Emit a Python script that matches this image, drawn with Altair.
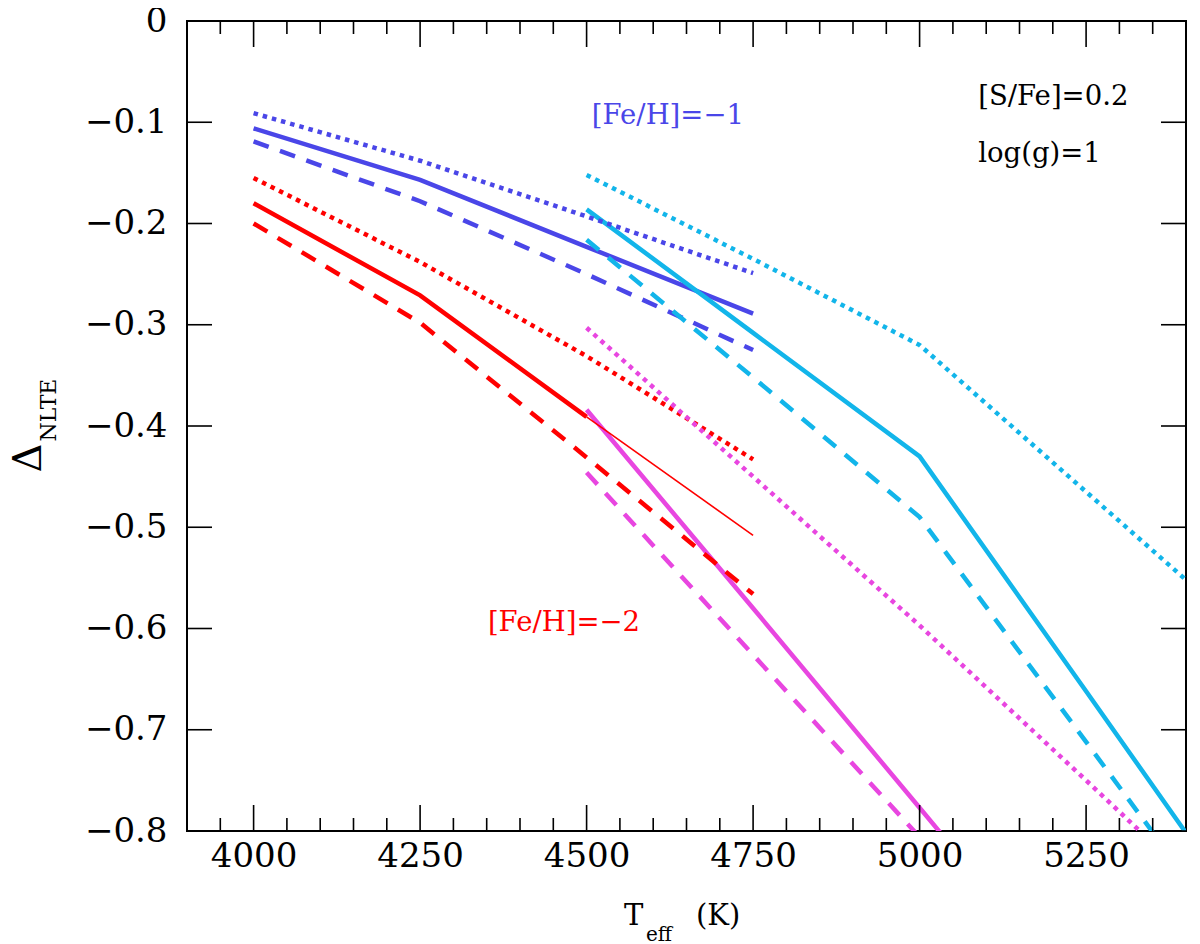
import altair as alt
import pandas as pd

# temperature grids
teff_cool = [4000, 4250, 4500, 4750]
teff_hot = [4500, 4750, 5000, 5250, 5500]

# [Fe/H]=-1 (blue) on the cool grid
blue_solid = [-0.106, -0.157, -0.223, -0.289]
blue_dashed = [-0.119, -0.178, -0.250, -0.325]
blue_dotted = [-0.091, -0.138, -0.193, -0.249]

# [Fe/H]=-2 (red) on the cool grid, last solid piece drawn thin
red_solid = [-0.180, -0.271, -0.391]
red_thin_teff = [4500, 4750]
red_thin = [-0.391, -0.508]
red_dashed = [-0.200, -0.298, -0.431, -0.566]
red_dotted = [-0.155, -0.238, -0.331, -0.433]

# hot grid: cyan and magenta
cyan_solid = [-0.186, -0.308, -0.430, -0.662, -0.895]
cyan_dashed = [-0.216, -0.352, -0.490, -0.712, -0.935]
cyan_dotted = [-0.152, -0.235, -0.320, -0.465, -0.610]
magenta_solid = [-0.384, -0.580, -0.777, -0.975]
magenta_dashed = [-0.446, -0.626, -0.806]
magenta_dotted = [-0.303, -0.450, -0.597, -0.750, -0.905]

# tick positions and labels
x_major = [4000, 4250, 4500, 4750, 5000, 5250]
x_minor = [3950, 4050, 4100, 4150, 4200, 4300, 4350, 4400, 4450, 4550, 4600,
           4650, 4700, 4800, 4850, 4900, 4950, 5050, 5100, 5150, 5200, 5300, 5350]
y_major = [0, -0.1, -0.2, -0.3, -0.4, -0.5, -0.6, -0.7, -0.8]

BLUE = "#4a46e8"
RED = "#ff0000"
CYAN = "#12b5ea"
MAGENTA = "#e846e0"
FONT = "DejaVu Serif"

W, H = 999, 810


def rows(name, teff, vals, color, style):
    return pd.DataFrame({"T": teff[:len(vals)], "d": vals, "series": name,
                         "color": color, "style": style})


lines = pd.concat([
    rows("blue_solid", teff_cool, blue_solid, BLUE, "solid"),
    rows("blue_dashed", teff_cool, blue_dashed, BLUE, "dashed"),
    rows("blue_dotted", teff_cool, blue_dotted, BLUE, "dotted"),
    rows("red_solid", teff_cool, red_solid, RED, "solid"),
    rows("red_thin", red_thin_teff, red_thin, RED, "thin"),
    rows("red_dashed", teff_cool, red_dashed, RED, "dashed"),
    rows("red_dotted", teff_cool, red_dotted, RED, "dotted"),
    rows("cyan_solid", teff_hot, cyan_solid, CYAN, "solid"),
    rows("cyan_dashed", teff_hot, cyan_dashed, CYAN, "dashed"),
    rows("cyan_dotted", teff_hot, cyan_dotted, CYAN, "dotted"),
    rows("magenta_solid", teff_hot, magenta_solid, MAGENTA, "solid"),
    rows("magenta_dashed", teff_hot, magenta_dashed, MAGENTA, "dashed"),
    rows("magenta_dotted", teff_hot, magenta_dotted, MAGENTA, "dotted"),
])

x_axis = alt.Axis(values=x_major, title=None, ticks=False, domain=False, grid=False,
                  labelFont=FONT, labelFontSize=34, labelColor="black", labelPadding=8,
                  labelFlush=False, labelOverlap=False, format="d")
y_axis = alt.Axis(values=y_major, title=None, ticks=False, domain=False, grid=False,
                  labelFont=FONT, labelFontSize=34, labelColor="black", labelPadding=20,
                  labelFlush=False, labelOverlap=False,
                  labelExpr="datum.value == 0 ? '0' : format(datum.value, '.1f')")
x_scale = alt.Scale(domain=[3900, 5400], nice=False, zero=False)
y_scale = alt.Scale(domain=[-0.8, 0], nice=False, zero=False)


def xq():
    return alt.X("T:Q", scale=x_scale, axis=x_axis)


def yq():
    return alt.Y("d:Q", scale=y_scale, axis=y_axis)


base = alt.Chart(lines)
enc = dict(x=xq(), y=yq(), detail="series:N", order="T:Q",
           color=alt.Color("color:N", scale=None, legend=None))

solid = base.transform_filter(alt.datum.style == "solid").mark_line(
    strokeWidth=4.5, clip=True).encode(**enc)
thin = base.transform_filter(alt.datum.style == "thin").mark_line(
    strokeWidth=1.6, clip=True).encode(**enc)
dashed = base.transform_filter(alt.datum.style == "dashed").mark_line(
    strokeWidth=4.5, strokeDash=[16, 12], clip=True).encode(**enc)
dotted = base.transform_filter(alt.datum.style == "dotted").mark_line(
    strokeWidth=4.5, strokeDash=[4.5, 5], clip=True).encode(**enc)

# inward ticks on all four sides
xmaj = pd.DataFrame({"T": x_major})
xmin = pd.DataFrame({"T": x_minor})
ymaj = pd.DataFrame({"d": y_major})
tick_style = dict(color="black", strokeWidth=1.6)
ticks = [
    alt.Chart(xmaj).mark_rule(**tick_style).encode(x=xq(), y=alt.value(H), y2=alt.value(H - 26)),
    alt.Chart(xmaj).mark_rule(**tick_style).encode(x=xq(), y=alt.value(0), y2=alt.value(26)),
    alt.Chart(xmin).mark_rule(**tick_style).encode(x=xq(), y=alt.value(H), y2=alt.value(H - 13)),
    alt.Chart(xmin).mark_rule(**tick_style).encode(x=xq(), y=alt.value(0), y2=alt.value(13)),
    alt.Chart(ymaj).mark_rule(**tick_style).encode(y=yq(), x=alt.value(0), x2=alt.value(25)),
    alt.Chart(ymaj).mark_rule(**tick_style).encode(y=yq(), x=alt.value(W), x2=alt.value(W - 25)),
]

# annotations inside the plot
notes = pd.DataFrame({
    "T": [4622, 4466, 5088, 5088],
    "d": [-0.102, -0.602, -0.083, -0.139],
    "label": ["[Fe/H]=\u22121", "[Fe/H]=\u22122", "[S/Fe]=0.2", "log(g)=1"],
    "color": [BLUE, RED, "black", "black"],
    "align": ["center", "center", "left", "left"],
})
note_layers = []
for al in ["center", "left"]:
    note_layers.append(
        alt.Chart(notes).transform_filter(alt.datum.align == al)
        .mark_text(font=FONT, fontSize=27.5, align=al, baseline="alphabetic")
        .encode(x=xq(), y=yq(), text="label:N",
                color=alt.Color("color:N", scale=None, legend=None))
    )


# axis titles with subscripts
def title_text(txt, x, y, size, angle=0, align="left", baseline="alphabetic"):
    return alt.Chart(pd.DataFrame({"label": [txt]})).mark_text(
        font=FONT, fontSize=size, align=align, baseline=baseline, angle=angle,
        color="black").encode(x=alt.value(x), y=alt.value(y), text="label:N")


titles = [
    title_text("T", 437, 904, 29),
    title_text("eff", 459, 920, 20),
    title_text("(K)", 509, 904, 29),
    title_text("\u0394", -158, 437, 40, angle=270, align="center", baseline="middle"),
    title_text("NLTE", -138, 389, 22, angle=270, align="center", baseline="middle"),
]

chart = alt.layer(solid, thin, dashed, dotted, *ticks, *note_layers, *titles).properties(
    width=W, height=H,
    autosize=alt.AutoSizeParams(type="none"),
    padding={"left": 179, "top": 13, "right": 6, "bottom": 125},
).configure_view(stroke="black", strokeWidth=2)

chart.save("out.html", embed_options={"renderer": "svg", "actions": False})
